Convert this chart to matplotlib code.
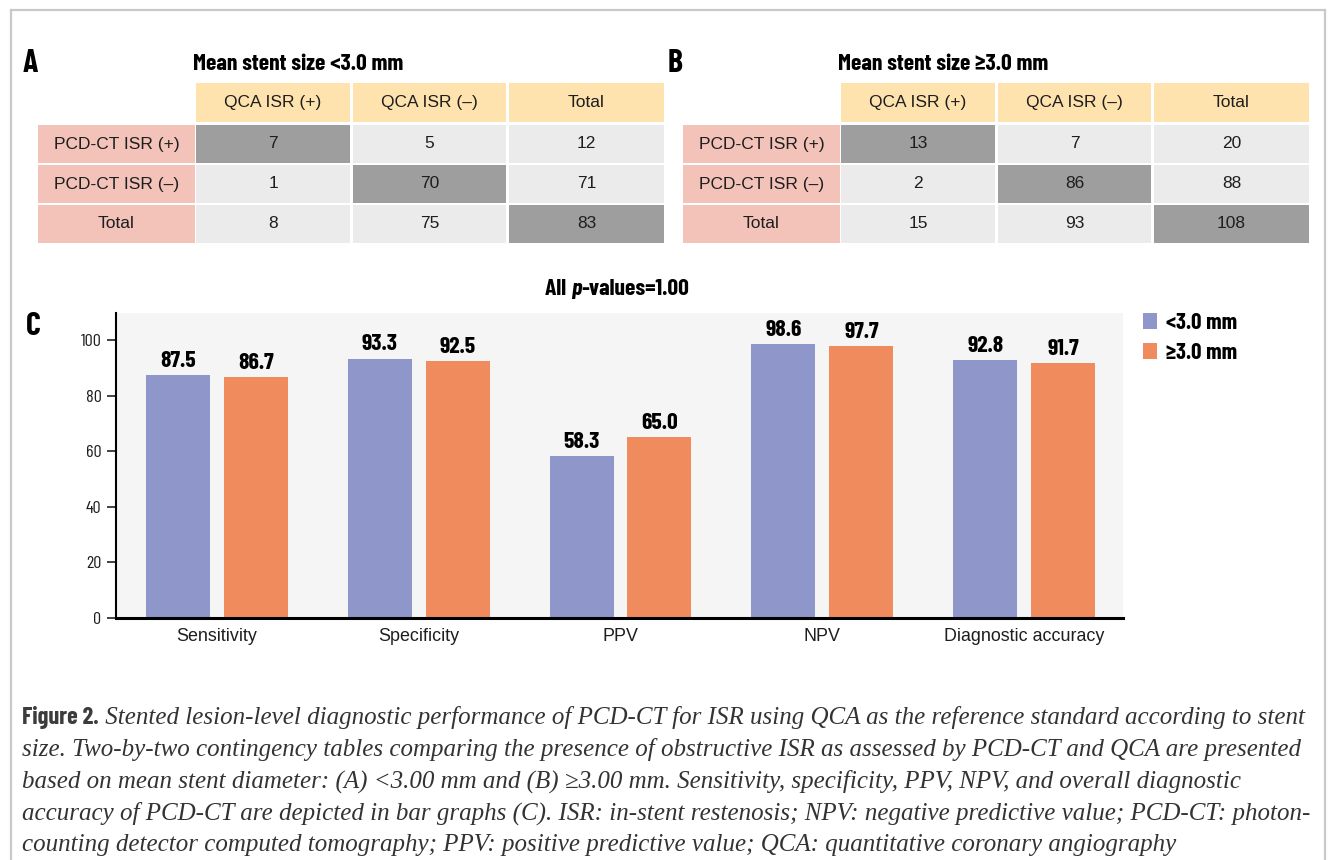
import matplotlib
matplotlib.use("Agg")
import matplotlib.pyplot as plt
from matplotlib import font_manager as fm
from matplotlib.patches import Rectangle
from matplotlib.lines import Line2D

# ---------------- data ----------------
metrics = ["Sensitivity", "Specificity", "PPV", "NPV", "Diagnostic accuracy"]
small_stent = [87.5, 93.3, 58.3, 98.6, 92.8]
large_stent = [86.7, 92.5, 65.0, 97.7, 91.7]
series_labels = ["<3.0 mm", "\u22653.0 mm"]
y_ticks = [0, 20, 40, 60, 80, 100]

col_headers = ["QCA ISR (+)", "QCA ISR (\u2013)", "Total"]
row_headers = ["PCD-CT ISR (+)", "PCD-CT ISR (\u2013)", "Total"]
table_a = [[7, 5, 12], [1, 70, 71], [8, 75, 83]]
table_b = [[13, 7, 20], [2, 86, 88], [15, 93, 108]]
title_a = "Mean stent size <3.0 mm"
title_b = "Mean stent size \u22653.0 mm"
pvalue_parts = ["All ", "p", "-values=1.00"]

caption_head = "Figure 2."
caption_lines = [
    "Stented lesion-level diagnostic performance of PCD-CT for ISR using QCA as the reference standard according to stent",
    "size. Two-by-two contingency tables comparing the presence of obstructive ISR as assessed by PCD-CT and QCA are presented",
    "based on mean stent diameter: (A) <3.00 mm and (B) \u22653.00 mm. Sensitivity, specificity, PPV, NPV, and overall diagnostic",
    "accuracy of PCD-CT are depicted in bar graphs (C). ISR: in-stent restenosis; NPV: negative predictive value; PCD-CT: photon-",
    "counting detector computed tomography; PPV: positive predictive value; QCA: quantitative coronary angiography",
]

# ---------------- fonts ----------------
names = {f.name for f in fm.fontManager.ttflist}
def pick(cands, default="DejaVu Sans"):
    for c in cands:
        if c in names:
            return c
    return default

COND = pick(["Barlow Condensed", "PT Sans Narrow", "Roboto Condensed", "Liberation Sans Narrow"])
REG = pick(["Liberation Sans", "Roboto", "DejaVu Sans"])
SERIF = pick(["Liberation Serif", "DejaVu Serif"], "DejaVu Serif")
condlist = [COND, "DejaVu Sans"]
reglist = [REG, "DejaVu Sans"]
seriflist = [SERIF, "DejaVu Serif"]

W, H = 1328, 860
fig = plt.figure(figsize=(W / 100, H / 100), dpi=100)
fig.patch.set_facecolor("white")

ov = fig.add_axes([0, 0, 1, 1], zorder=0)
ov.set_xlim(0, W)
ov.set_ylim(H, 0)
ov.axis("off")

TXT = "#1e1e1e"
HEAD_C = "#FFE3AE"
ROW_C = "#F3C3BA"
CELL_C = "#EBEBEB"
DARK_C = "#9E9E9E"

# frame
frame_c = "#C9C9C9"
ov.add_line(Line2D([10.5, 1325], [9.5, 9.5], color=frame_c, lw=1.6))
ov.add_line(Line2D([10.5, 10.5], [9.5, H], color=frame_c, lw=1.6))
ov.add_line(Line2D([1325, 1325], [9.5, H], color=frame_c, lw=1.6))

# ---------------- tables ----------------
lab_x = (38, 195)
col_x = [(196, 350), (353, 506), (509, 664)]
head_y = (83, 122)
row_y = [(125, 163), (165, 203), (205, 243)]

def draw_table(dx, data, title, letter):
    ov.text(23 + dx, 72, letter, fontsize=23, fontweight="bold", family=condlist,
            color="black", ha="left", va="baseline")
    ov.text(193 + dx, 70, title, fontsize=17, fontweight="bold", family=condlist,
            color="black", ha="left", va="baseline")
    for j, (x0, x1) in enumerate(col_x):
        ov.add_patch(Rectangle((x0 + dx, head_y[0]), x1 - x0, head_y[1] - head_y[0],
                               facecolor=HEAD_C, edgecolor="none"))
        ov.text((x0 + x1) / 2 + dx, sum(head_y) / 2, col_headers[j], fontsize=12.5,
                family=reglist, color=TXT, ha="center", va="center")
    for i, (y0, y1) in enumerate(row_y):
        ov.add_patch(Rectangle((lab_x[0] + dx, y0), lab_x[1] - lab_x[0], y1 - y0,
                               facecolor=ROW_C, edgecolor="none"))
        ov.text(sum(lab_x) / 2 + dx, (y0 + y1) / 2, row_headers[i], fontsize=12.5,
                family=reglist, color=TXT, ha="center", va="center")
        for j, (x0, x1) in enumerate(col_x):
            fc = DARK_C if i == j else CELL_C
            ov.add_patch(Rectangle((x0 + dx, y0), x1 - x0, y1 - y0,
                                   facecolor=fc, edgecolor="none"))
            ov.text((x0 + x1) / 2 + dx, (y0 + y1) / 2, str(data[i][j]), fontsize=12.5,
                    family=reglist, color=TXT, ha="center", va="center")

draw_table(0, table_a, title_a, "A")
draw_table(645, table_b, title_b, "B")

# ---------------- bar chart ----------------
ax_l, ax_r, ax_t, ax_b = 116, 1123, 313, 618
ax = fig.add_axes([ax_l / W, 1 - ax_b / H, (ax_r - ax_l) / W, (ax_b - ax_t) / H], zorder=2)
ax.set_facecolor("#F5F5F5")
x = list(range(len(metrics)))
bw = 0.317
off = 0.193
BLUE = "#8E96CA"
ORANGE = "#F08B5E"
b1 = ax.bar([v - off for v in x], small_stent, bw, color=BLUE, label=series_labels[0])
b2 = ax.bar([v + off for v in x], large_stent, bw, color=ORANGE, label=series_labels[1])
for bars in (b1, b2):
    ax.bar_label(bars, fmt="%.1f", padding=3, fontsize=17, fontweight="bold",
                 family=condlist, color="black")
ax.set_xlim(-0.5, 4.49)
ax.set_ylim(0, 109.7)
ax.set_yticks(y_ticks)
ax.set_xticks(x)
ax.set_xticklabels(metrics, family=reglist, fontsize=12.9, color=TXT)
for lab in ax.get_yticklabels():
    lab.set_family(condlist)
    lab.set_fontsize(13)
    lab.set_color(TXT)
ax.tick_params(axis="y", length=6.5, width=1.2, pad=4, color="#222")
ax.tick_params(axis="x", length=0, pad=7)
for s in ("top", "right"):
    ax.spines[s].set_visible(False)
ax.spines["left"].set_linewidth(1.5)
ax.spines["bottom"].set_linewidth(2.2)

leg = ax.legend(loc="upper left", bbox_to_anchor=(1143 / W, 1 - 313 / H),
                bbox_transform=fig.transFigure, frameon=False,
                prop=fm.FontProperties(family=condlist, weight="bold", size=16.5),
                handlelength=0.62, handleheight=0.66, handletextpad=0.4,
                labelspacing=0.43, borderpad=0, borderaxespad=0)

ov.text(26, 335, "C", fontsize=23, fontweight="bold", family=condlist, color="black",
        ha="left", va="baseline")

# p-value title, chained pieces
fig.canvas.draw()
renderer = fig.canvas.get_renderer()
pv_base = 295
t0 = ov.text(545, pv_base, pvalue_parts[0], fontsize=17, fontweight="bold",
             family=condlist, ha="left", va="baseline", color="black")
t1 = ov.annotate(pvalue_parts[1], xy=(1, pv_base), xycoords=(t0, ov.transData),
                 fontsize=17, fontweight="bold", fontstyle="italic", family=condlist,
                 ha="left", va="baseline", color="black")
t2 = ov.annotate(pvalue_parts[2], xy=(1, pv_base), xycoords=(t1, ov.transData),
                 fontsize=17, fontweight="bold", family=condlist,
                 ha="left", va="baseline", color="black")

# ---------------- caption ----------------
CAP_C = "#333333"
cap_fs = 17.0
base0 = 724
step = 31.7
th = ov.text(22, base0, caption_head, fontsize=17.5, fontweight="bold", family=condlist,
             color="#3c3c3c", ha="left", va="baseline")
first = ov.annotate(" " + caption_lines[0], xy=(1, base0), xycoords=(th, ov.transData),
                    fontsize=cap_fs, fontstyle="italic", family=seriflist,
                    ha="left", va="baseline", color=CAP_C)
rest = []
for i, line in enumerate(caption_lines[1:], start=1):
    rest.append(ov.text(22, base0 + step * i, line, fontsize=cap_fs, fontstyle="italic",
                        family=seriflist, color=CAP_C, ha="left", va="baseline"))
fig.canvas.draw()
# fit caption size so the second line ends near x=1302
bb = rest[0].get_window_extent(renderer)
cap_fs = cap_fs * (1302 - 22) / bb.width
first.set_fontsize(cap_fs)
for t in rest:
    t.set_fontsize(cap_fs)

fig.savefig("out.png", dpi=100, facecolor="white")
